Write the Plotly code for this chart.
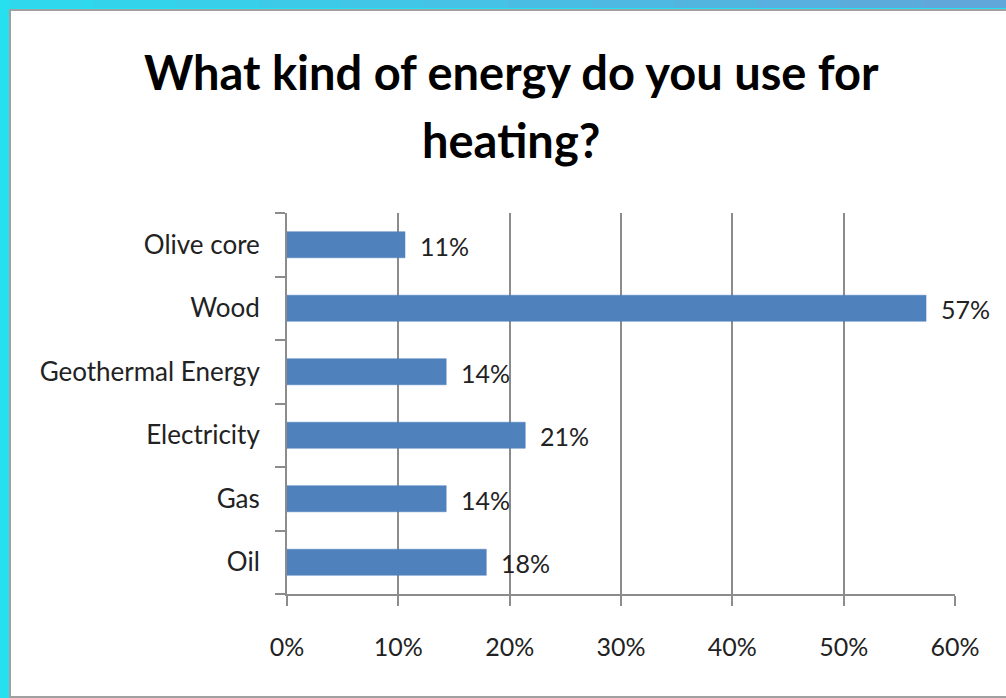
import plotly.graph_objects as go

categories = ["Oil", "Gas", "Electricity", "Geothermal Energy", "Wood", "Olive core"]
values = [17.9, 14.3, 21.4, 14.3, 57.4, 10.6]
labels = ["18%", "14%", "21%", "14%", "57%", "11%"]
x_ticks = [0, 10, 20, 30, 40, 50, 60]
x_tick_text = ["0%", "10%", "20%", "30%", "40%", "50%", "60%"]
title_lines = ["What kind of energy do you use for", "heating?"]

W, H = 1006, 698
L, R, T, B = 287, 51, 213, 104
pw, ph = W - L - R, H - T - B

def px_x(x):
    return (x - L) / pw

def px_y(y):
    return (H - B - y) / ph

font_fam = "Lato, 'Open Sans', sans-serif"

fig = go.Figure()
fig.add_trace(go.Bar(
    y=categories, x=values, orientation="h",
    marker=dict(color="#4F81BD", line=dict(color="#4A7EBB", width=0.5)),
    hoverinfo="skip",
))

annotations = []
for cat, v, lab in zip(categories, values, labels):
    annotations.append(dict(x=v, y=cat, xref="x", yref="y", text=lab,
                            showarrow=False, xanchor="left", yanchor="middle",
                            xshift=13, yshift=-1,
                            font=dict(size=25, color="#222", family=font_fam)))
for line, yc in zip(title_lines, [72, 140]):
    annotations.append(dict(x=px_x(511), y=px_y(yc),
                            xref="paper", yref="paper", text="<b>%s</b>" % line,
                            showarrow=False, xanchor="center", yanchor="middle",
                            font=dict(size=47, color="black", family=font_fam)))

shapes = []
shapes.append(dict(type="rect", xref="paper", yref="paper", layer="below",
                   x0=px_x(10), x1=px_x(1012), y0=px_y(697), y1=px_y(10),
                   fillcolor="white", line=dict(color="#A0A0A0", width=2)))
n = 12
c0 = (0x30, 0xD8, 0xEE)
c1 = (0x60, 0xA8, 0xDC)
for i in range(n):
    t = i / (n - 1)
    col = "rgb(%d,%d,%d)" % tuple(int(c0[k] + (c1[k] - c0[k]) * t) for k in range(3))
    shapes.append(dict(type="rect", xref="paper", yref="paper", layer="below",
                       x0=px_x(10 + i * (W - 10) / n), x1=px_x(10 + (i + 1) * (W - 10) / n + 1),
                       y0=px_y(8), y1=px_y(0), fillcolor=col, line=dict(width=0)))

fig.update_layout(
    width=W, height=H,
    margin=dict(l=L, r=R, t=T, b=B),
    paper_bgcolor="#26E0F0",
    plot_bgcolor="white",
    shapes=shapes,
    annotations=annotations,
    showlegend=False,
    bargap=0.59,
    xaxis=dict(
        range=[0, 60], tickvals=x_ticks, ticktext=x_tick_text,
        showgrid=True, gridcolor="#8C8C8C", gridwidth=1.5,
        showline=True, linecolor="#8C8C8C", linewidth=2,
        ticks="outside", ticklen=10, tickcolor="#8C8C8C", tickwidth=2,
        tickfont=dict(size=25, color="#222", family=font_fam),
        ticklabelstandoff=20, zeroline=False, fixedrange=True,
    ),
    yaxis=dict(
        categoryorder="array", categoryarray=categories,
        showline=True, linecolor="#8C8C8C", linewidth=2,
        ticks="outside", ticklen=10, tickcolor="#8C8C8C", tickwidth=2,
        tickson="boundaries",
        tickfont=dict(size=26, color="#222", family=font_fam),
        ticklabelstandoff=20, showgrid=False, fixedrange=True,
    ),
)

fig.write_html("out.html")
